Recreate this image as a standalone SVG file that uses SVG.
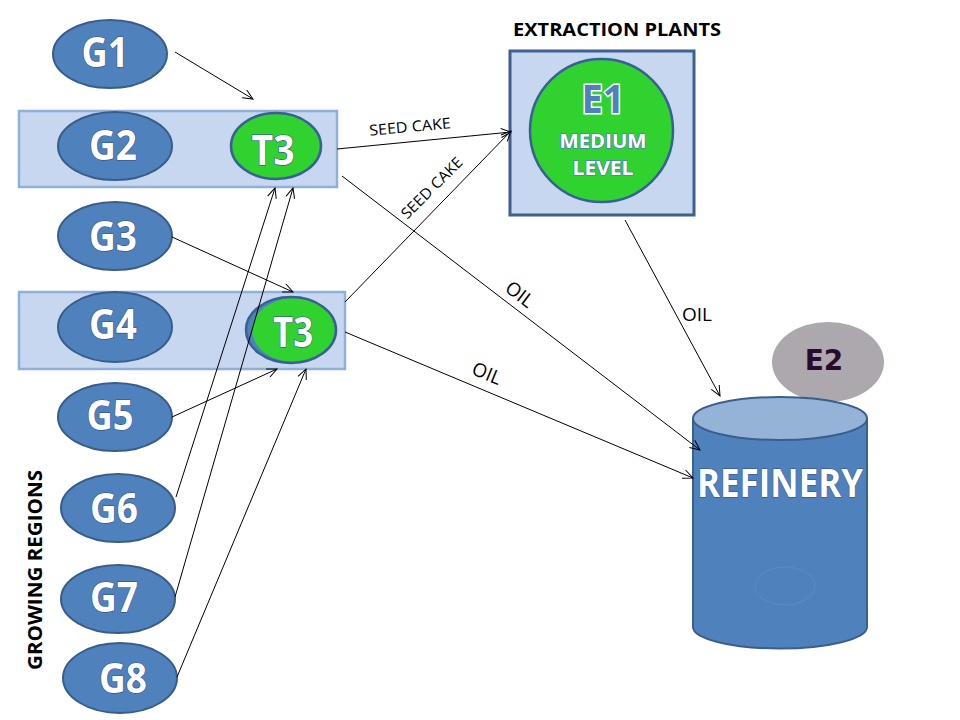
<svg xmlns="http://www.w3.org/2000/svg" width="960" height="720" viewBox="0 0 960 720">
<defs>
<style>
.g{fill:#4f81bd;stroke:#385d8a;stroke-width:2}
.box{fill:#c6d7ef;stroke:#8fb0dc;stroke-width:2.5}
.grn{fill:#2fd22f;stroke:#3a5f95;stroke-width:2.5}
.gl{font-family:"Open Sans","DejaVu Sans",sans-serif;font-weight:bold;font-size:41px;fill:#fff;stroke:#2f4f80;stroke-width:1.2;paint-order:stroke;text-anchor:middle}
.lbl{font-family:"Open Sans","Liberation Sans",sans-serif;fill:#000;text-anchor:middle}
.c line{stroke:#000;stroke-width:1;fill:none;marker-end:url(#ah)}
</style>
<marker id="ah" viewBox="0 0 12 10" refX="11" refY="5" markerWidth="12" markerHeight="10" markerUnits="userSpaceOnUse" orient="auto">
<path d="M1,0.5 L11,5 L1,9.5" fill="none" stroke="#000" stroke-width="1"/>
</marker>
</defs>
<rect width="960" height="720" fill="#fff"/>

<g id="G2box"><rect class="box" x="19" y="111" width="318" height="76"/></g>
<g id="G4box"><rect class="box" x="19" y="292" width="326" height="77"/></g>

<g id="G1"><ellipse class="g" cx="110" cy="54" rx="57" ry="34"/><text class="gl" x="105" y="67" textLength="47" lengthAdjust="spacingAndGlyphs">G1</text></g>
<g id="G2"><ellipse class="g" cx="115" cy="146" rx="57" ry="34"/><text class="gl" x="113" y="160" textLength="48" lengthAdjust="spacingAndGlyphs">G2</text></g>
<g id="G3"><ellipse class="g" cx="115" cy="236" rx="57" ry="34"/><text class="gl" x="113" y="251" textLength="48" lengthAdjust="spacingAndGlyphs">G3</text></g>
<g id="G4"><ellipse class="g" cx="115" cy="327" rx="57" ry="35"/><text class="gl" x="113" y="339" textLength="48" lengthAdjust="spacingAndGlyphs">G4</text></g>
<g id="G5"><ellipse class="g" cx="115" cy="417" rx="57" ry="34"/><text class="gl" x="110" y="430" textLength="47" lengthAdjust="spacingAndGlyphs">G5</text></g>
<g id="G6"><ellipse class="g" cx="118" cy="508" rx="57" ry="34"/><text class="gl" x="114" y="523" textLength="48" lengthAdjust="spacingAndGlyphs">G6</text></g>
<g id="G7"><ellipse class="g" cx="118" cy="599" rx="57" ry="34"/><text class="gl" x="114" y="612" textLength="48" lengthAdjust="spacingAndGlyphs">G7</text></g>
<g id="G8"><ellipse class="g" cx="120" cy="678" rx="57" ry="35"/><text class="gl" x="123" y="693" textLength="48" lengthAdjust="spacingAndGlyphs">G8</text></g>

<g id="T3a"><ellipse class="grn" cx="276" cy="146" rx="45" ry="33"/><text class="gl" x="273" y="165" textLength="43" lengthAdjust="spacingAndGlyphs">T3</text></g>
<g id="T3b"><ellipse cx="291" cy="330" rx="45" ry="33" fill="#4f81bd"/><ellipse cx="294" cy="330" rx="42" ry="32" fill="#2fd22f"/><ellipse cx="291" cy="330" rx="45" ry="33" fill="none" stroke="#3a5f95" stroke-width="2.5"/><text class="gl" x="293" y="347" textLength="40" lengthAdjust="spacingAndGlyphs">T3</text></g>

<g id="GR"><text class="lbl" transform="translate(42,570) rotate(-90)" x="0" y="0" font-size="19" font-weight="bold" textLength="200" lengthAdjust="spacingAndGlyphs">GROWING REGIONS</text></g>

<g id="E1">
<text class="lbl" x="617" y="36" font-size="18" font-weight="bold" textLength="208" lengthAdjust="spacingAndGlyphs">EXTRACTION PLANTS</text>
<rect x="510" y="51" width="184" height="164" fill="#c6d7ef" stroke="#3f5f8f" stroke-width="3"/>
<circle cx="601.5" cy="130.5" r="71.5" fill="#2fd22f" stroke="#3a5f95" stroke-width="2.5"/>
<text x="603" y="113" font-family="'Open Sans','DejaVu Sans',sans-serif" font-weight="bold" font-size="40" fill="#4f81bd" stroke="#fff" stroke-width="3" paint-order="stroke" text-anchor="middle" textLength="43" lengthAdjust="spacingAndGlyphs">E1</text>
<text x="603" y="148" font-family="'Open Sans','DejaVu Sans',sans-serif" font-weight="bold" font-size="20" fill="#fff" stroke="#4f81bd" stroke-width="1.5" paint-order="stroke" text-anchor="middle" textLength="87" lengthAdjust="spacingAndGlyphs">MEDIUM</text>
<text x="603" y="175" font-family="'Open Sans','DejaVu Sans',sans-serif" font-weight="bold" font-size="20" fill="#fff" stroke="#4f81bd" stroke-width="1.5" paint-order="stroke" text-anchor="middle" textLength="61" lengthAdjust="spacingAndGlyphs">LEVEL</text>
</g>

<g id="E2"><ellipse cx="828" cy="362" rx="56" ry="40" fill="#ada7ae"/><text x="824" y="370" font-family="'DejaVu Sans',sans-serif" font-weight="bold" font-size="28" fill="#2a0b2e" text-anchor="middle">E2</text></g>

<g id="REFINERY">
<path d="M693,418.5 L693,627 A87,21.5 0 0 0 867,627 L867,418.5 Z" fill="#4f81bd" stroke="#3a5f8f" stroke-width="2"/>
<ellipse cx="780" cy="418.5" rx="87" ry="21.5" fill="#95b3d7" stroke="#3a5f8f" stroke-width="2"/>
<ellipse cx="785" cy="586" rx="30" ry="19" fill="none" stroke="#5b8cc8" stroke-width="1"/>
<text x="780" y="497" font-family="'Open Sans','DejaVu Sans',sans-serif" font-weight="bold" font-size="40" fill="#fff" stroke="#2f4f80" stroke-width="1" paint-order="stroke" text-anchor="middle" textLength="166" lengthAdjust="spacingAndGlyphs">REFINERY</text>
</g>

<g id="connectors" class="c">
<line x1="175" y1="52" x2="253" y2="99"/>
<line x1="172" y1="237" x2="293" y2="292"/>
<line x1="172" y1="417" x2="277" y2="369"/>
<line x1="176" y1="497" x2="275" y2="188"/>
<line x1="175" y1="597" x2="293" y2="188"/>
<line x1="177" y1="677" x2="306" y2="369"/>
<line x1="337" y1="149" x2="511" y2="132"/>
<line x1="345" y1="302" x2="511" y2="131"/>
<line x1="342" y1="176" x2="700" y2="450"/>
<line x1="345" y1="332" x2="693" y2="478"/>
<line x1="625" y1="220" x2="720" y2="396"/>
</g>

<g id="labels">
<text class="lbl" transform="translate(410,127) rotate(-5.3)" y="5" font-size="15" textLength="82" lengthAdjust="spacingAndGlyphs">SEED CAKE</text>
<text class="lbl" transform="translate(432,188) rotate(-45)" y="5" font-size="15" textLength="80" lengthAdjust="spacingAndGlyphs">SEED CAKE</text>
<text class="lbl" transform="translate(520,294) rotate(37)" y="7" font-size="19">OIL</text>
<text class="lbl" transform="translate(487,373) rotate(22)" y="7" font-size="19">OIL</text>
<text class="lbl" x="697" y="321" font-size="19">OIL</text>
</g>
</svg>
